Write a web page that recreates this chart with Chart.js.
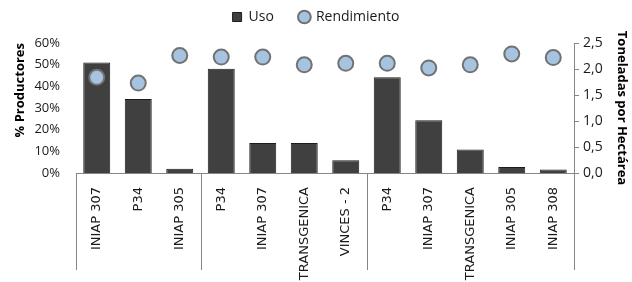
<!DOCTYPE html>
<html>
<head>
<meta charset="utf-8">
<script src="https://cdn.jsdelivr.net/npm/chart.js@4/dist/chart.umd.min.js"></script>
<style>
  html, body { margin: 0; padding: 0; background: #fff; }
  #wrap { width: 632px; height: 282px; position: relative; }
</style>
</head>
<body>
<div id="wrap"><canvas id="chart"></canvas></div>
<script>
// values
const categories = ['INIAP 307', 'P34', 'INIAP 305', 'P34', 'INIAP 307', 'TRANSGENICA', 'VINCES - 2',
                    'P34', 'INIAP 307', 'TRANSGENICA', 'INIAP 305', 'INIAP 308'];
const uso = [0.51, 0.342, 0.02, 0.481, 0.139, 0.139, 0.059, 0.442, 0.244, 0.108, 0.028, 0.016];
const rendimiento = [1.84, 1.73, 2.26, 2.23, 2.23, 2.08, 2.11, 2.11, 2.02, 2.08, 2.29, 2.22];
const groupSizes = [3, 4, 5];

const axisGray = '#868686';
const textFont = 'Open Sans';

// vertical lines under the x axis that split the groups
const groupLines = {
    id: 'groupLines',
    afterDraw(chart) {
        const xs = chart.scales.x;
        const area = chart.chartArea;
        const half = (xs.getPixelForValue(1) - xs.getPixelForValue(0)) / 2;
        const ctx = chart.ctx;
        let idx = 0;
        const edges = [xs.getPixelForValue(0) - half];
        groupSizes.forEach(n => {
            idx += n;
            edges.push(xs.getPixelForValue(idx - 1) + half);
        });
        ctx.save();
        ctx.strokeStyle = axisGray;
        ctx.lineWidth = 1;
        edges.forEach(x => {
            const px = Math.round(x) + 0.5;
            ctx.beginPath();
            ctx.moveTo(px, area.bottom);
            ctx.lineTo(px, area.bottom + 97);
            ctx.stroke();
        });
        ctx.restore();
    }
};

// legend keeps wide gaps between items but takes a fixed height
const legendHeight = {
    id: 'legendHeight',
    beforeLayout(chart) {
        const lg = chart.legend;
        if (!lg || lg._patched) return;
        const fit = lg.fit.bind(lg);
        lg.fit = function () { fit(); this.height = 59; };
        lg._patched = true;
    }
};

new Chart(document.getElementById('chart'), {
    type: 'bar',
    data: {
        labels: categories,
        datasets: [{
            label: 'Uso',
            data: uso,
            backgroundColor: '#404040',
            borderColor: '#1c1c1c',
            borderWidth: 1,
            barPercentage: 0.65,
            categoryPercentage: 1,
            yAxisID: 'y',
            order: 2,
            pointStyle: 'rect'
        }, {
            type: 'line',
            label: 'Rendimiento',
            data: rendimiento,
            showLine: false,
            pointStyle: 'circle',
            pointRadius: 7.5,
            pointBackgroundColor: '#a6c3df',
            pointBorderColor: '#727272',
            pointBorderWidth: 2,
            backgroundColor: '#a6c3df',
            borderColor: '#727272',
            yAxisID: 'y1',
            order: 1
        }]
    },
    options: {
        responsive: true,
        maintainAspectRatio: false,
        animation: false,
        layout: { padding: { top: -16, right: 0, left: 0, bottom: 0 } },
        plugins: {
            tooltip: { enabled: false },
            legend: {
                position: 'top',
                labels: {
                    usePointStyle: true,
                    boxWidth: 9,
                    boxHeight: 9,
                    padding: 26,
                    color: '#1a1a1a',
                    font: { family: textFont, size: 14 },
                    sort: (a, b) => a.datasetIndex - b.datasetIndex
                }
            }
        },
        scales: {
            x: {
                grid: { display: false },
                border: { color: axisGray },
                ticks: {
                    minRotation: 90,
                    maxRotation: 90,
                    autoSkip: false,
                    padding: 6,
                    color: '#1a1a1a',
                    font: { family: 'DejaVu Sans', size: 13 }
                },
                afterFit: s => { s.height = 109; }
            },
            y: {
                position: 'left',
                min: 0,
                max: 0.6,
                grid: { display: false },
                border: { display: false },
                ticks: {
                    stepSize: 0.1,
                    padding: 8,
                    color: '#1a1a1a',
                    font: { family: textFont, size: 13 },
                    callback: v => Math.round(v * 100) + '%'
                },
                title: {
                    display: true,
                    text: '% Productores',
                    align: 'end',
                    color: '#000',
                    padding: { top: 12, bottom: 0 },
                    font: { family: textFont, size: 13, weight: 'bold' }
                },
                afterFit: s => { s.width = 76; }
            },
            y1: {
                position: 'right',
                min: 0,
                max: 2.5,
                grid: { drawOnChartArea: false, color: axisGray, tickLength: 5 },
                border: { color: axisGray },
                ticks: {
                    stepSize: 0.5,
                    padding: 4,
                    color: '#1a1a1a',
                    font: { family: textFont, size: 14 },
                    callback: v => v.toFixed(1).replace('.', ',')
                },
                title: {
                    display: true,
                    text: 'Toneladas por Hectárea',
                    color: '#000',
                    padding: { top: 2, bottom: 0 },
                    font: { family: textFont, size: 13, weight: 'bold' }
                },
                afterFit: s => { s.width = 58; }
            }
        }
    },
    plugins: [groupLines, legendHeight]
});
</script>
</body>
</html>
